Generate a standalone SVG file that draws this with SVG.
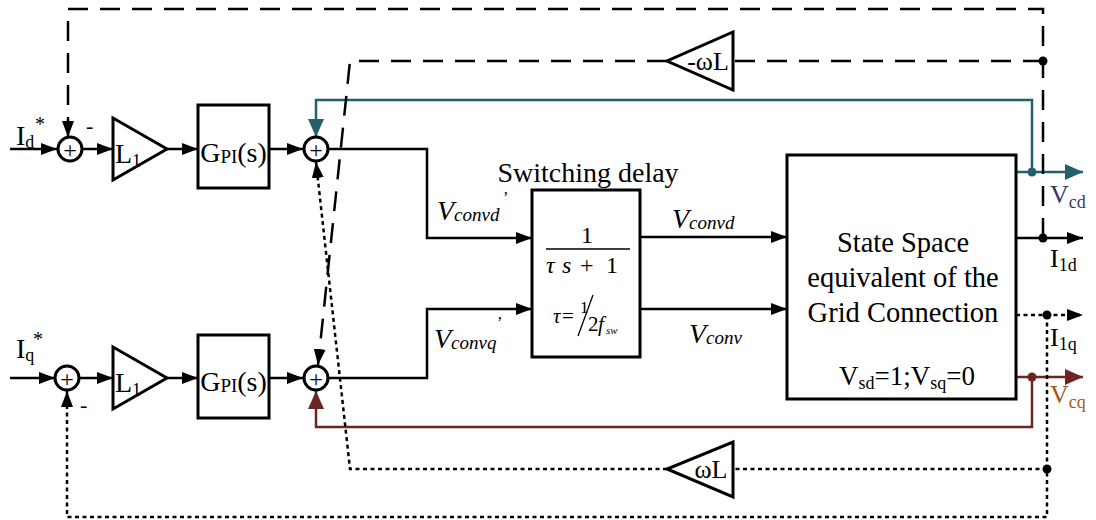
<svg xmlns="http://www.w3.org/2000/svg" width="1096" height="520" viewBox="0 0 1096 520">
<style>
.ln{fill:none;stroke:#000;stroke-width:2.5}
.da{fill:none;stroke:#000;stroke-width:2.5;stroke-dasharray:20 12}
.do{fill:none;stroke:#000;stroke-width:2.5;stroke-dasharray:4 3.5}
.te{fill:none;stroke:#22606e;stroke-width:2.5}
.br{fill:none;stroke:#6b2622;stroke-width:2.5}
.blk{fill:#fff;stroke:#000;stroke-width:3}
.t{font-family:"Liberation Serif","Times New Roman",serif;fill:#000}
.i{font-style:italic}
.pl{font-family:"Liberation Serif","Times New Roman",serif;font-size:24px;text-anchor:middle;fill:#000}
</style>
<defs>
<marker id="ab" markerWidth="16" markerHeight="12" refX="16" refY="6" orient="auto" markerUnits="userSpaceOnUse"><path d="M0,0 L16,6 L0,12 Z" fill="#000"/></marker>
<marker id="at" markerWidth="18" markerHeight="16" refX="18" refY="8" orient="auto" markerUnits="userSpaceOnUse"><path d="M0,0 L18,8 L0,16 Z" fill="#22606e"/></marker>
<marker id="ar" markerWidth="18" markerHeight="16" refX="18" refY="8" orient="auto" markerUnits="userSpaceOnUse"><path d="M0,0 L18,8 L0,16 Z" fill="#6b2622"/></marker>
</defs>

<g id="connectors">
<path class="ln" d="M10,149 H57" marker-end="url(#ab)"/>
<path class="ln" d="M82,149 H113" marker-end="url(#ab)"/>
<path class="ln" d="M167,149 H198" marker-end="url(#ab)"/>
<path class="ln" d="M269,149 H303" marker-end="url(#ab)"/>
<path class="ln" d="M328,149 H427 V238 H532" marker-end="url(#ab)"/>
<path class="ln" d="M640,237 H787" marker-end="url(#ab)"/>
<path class="ln" d="M10,378 H55" marker-end="url(#ab)"/>
<path class="ln" d="M79,378 H113" marker-end="url(#ab)"/>
<path class="ln" d="M167,378 H198" marker-end="url(#ab)"/>
<path class="ln" d="M269,378 H303" marker-end="url(#ab)"/>
<path class="ln" d="M328,378 H427 V309 H532" marker-end="url(#ab)"/>
<path class="ln" d="M640,309 H787" marker-end="url(#ab)"/>
<path class="te" d="M1016,172 H1083" marker-end="url(#at)"/>
<path class="ln" d="M1016,238 H1083" marker-end="url(#ab)"/>
<path class="do" d="M1016,315 H1083" marker-end="url(#ab)"/>
<path class="br" d="M1016,377 H1083" marker-end="url(#ar)"/>
<path class="te" d="M1032,172 V100 H316 V137" marker-end="url(#at)"/>
<path class="br" d="M1032,377 V427 H316 V391" marker-end="url(#ar)"/>
<path class="da" d="M1043,238 V9 H68 V137" marker-end="url(#ab)"/>
<path class="da" d="M1043,61 H733"/>
<path class="da" d="M667,61 H350 L318,365" marker-end="url(#ab)"/>
<path class="do" d="M1047,315 V517 H67 V391" marker-end="url(#ab)"/>
<path class="do" d="M1047,469 H733"/>
<path class="do" d="M667,469 H350 L316,162" marker-end="url(#ab)"/>
<circle cx="1043" cy="61" r="4.5" fill="#000"/>
<circle cx="1043" cy="238" r="4.5" fill="#000"/>
<circle cx="1047" cy="315" r="4.5" fill="#000"/>
<circle cx="1047" cy="469" r="4.5" fill="#000"/>
<circle cx="1032" cy="172" r="4.5" fill="#22606e"/>
<circle cx="1032" cy="377" r="4.5" fill="#6b2622"/>
</g>

<g id="sum_d1"><circle class="blk" cx="70" cy="149" r="12"/><text class="pl" x="70" y="157.5">+</text></g>
<g id="sum_q1"><circle class="blk" cx="67" cy="378" r="12"/><text class="pl" x="67" y="386.5">+</text></g>
<g id="sum_d2"><circle class="blk" cx="316" cy="149" r="12"/><text class="pl" x="316" y="157.5">+</text></g>
<g id="sum_q2"><circle class="blk" cx="316" cy="378" r="12"/><text class="pl" x="316" y="386.5">+</text></g>

<g id="gain_d"><path class="blk" d="M113,118 L113,180 L167,149 Z"/><text class="t" x="115" y="163" font-size="28">L<tspan font-size="18" dy="4">1</tspan></text></g>
<g id="gain_q"><path class="blk" d="M113,347 L113,409 L167,378 Z"/><text class="t" x="115" y="392" font-size="28">L<tspan font-size="18" dy="4">1</tspan></text></g>

<g id="pi_d"><rect class="blk" x="198" y="105" width="71" height="83"/><text class="t" x="233.5" y="162" font-size="28" text-anchor="middle">G<tspan font-size="19" dy="1">PI</tspan><tspan dy="-1">(s)</tspan></text></g>
<g id="pi_q"><rect class="blk" x="198" y="335" width="71" height="83"/><text class="t" x="233.5" y="391" font-size="28" text-anchor="middle">G<tspan font-size="19" dy="1">PI</tspan><tspan dy="-1">(s)</tspan></text></g>

<g id="wL_neg"><path class="blk" d="M733,32 L733,90 L667,61 Z"/><text class="t" x="708" y="70" font-size="26" text-anchor="middle">-ωL</text></g>
<g id="wL_pos"><path class="blk" d="M733,442 L733,497 L667,469 Z"/><text class="t" x="711" y="478" font-size="26" text-anchor="middle">ωL</text></g>

<g id="delay">
<rect class="blk" x="532" y="190" width="108" height="167"/>
<text class="t" x="588" y="182" font-size="28" text-anchor="middle">Switching delay</text>
<text class="t" x="587" y="243" font-size="24" text-anchor="middle">1</text>
<line x1="546" y1="249" x2="630" y2="249" stroke="#000" stroke-width="1.5"/>
<text class="t" y="273" font-size="24"><tspan class="i" x="546">τ</tspan><tspan class="i" x="562">s</tspan><tspan x="580">+</tspan><tspan x="606">1</tspan></text>
<text class="t" y="323" font-size="21"><tspan class="i" x="553">τ</tspan><tspan x="562">=</tspan><tspan x="580" y="313" font-size="17">1</tspan><tspan x="588" y="331" font-size="21">2</tspan><tspan class="i" x="598" y="331">f</tspan><tspan class="i" x="606" y="334" font-size="11">sw</tspan></text>
<line x1="578" y1="336" x2="593" y2="295" stroke="#000" stroke-width="1.3"/>
</g>

<g id="plant">
<rect class="blk" x="787" y="155" width="229" height="244"/>
<text class="t" x="903" y="252" font-size="28.5" text-anchor="middle">State Space</text>
<text class="t" x="903" y="287" font-size="28.5" text-anchor="middle">equivalent of the</text>
<text class="t" x="903" y="322" font-size="28.5" text-anchor="middle">Grid Connection</text>
<text class="t" x="907" y="385" font-size="27" text-anchor="middle">V<tspan font-size="18" dy="4">sd</tspan><tspan dy="-4">=1;V</tspan><tspan font-size="18" dy="4">sq</tspan><tspan dy="-4">=0</tspan></text>
</g>

<g id="labels">
<text class="t" x="16" y="145" font-size="28">I<tspan font-size="18" dy="3">d</tspan></text>
<text class="t" x="35" y="131" font-size="20">*</text>
<text class="t" x="86" y="133" font-size="22">-</text>
<text class="t" x="16" y="358" font-size="28">I<tspan font-size="18" dy="3">q</tspan></text>
<text class="t" x="33" y="346" font-size="20">*</text>
<text class="t" x="80" y="412" font-size="22">-</text>
<text class="t i" x="437" y="220" font-size="28">V<tspan font-size="19" dy="1">convd</tspan></text>
<text class="t" x="503" y="203" font-size="16">’</text>
<text class="t i" x="434" y="348" font-size="28">V<tspan font-size="19" dy="1">convq</tspan></text>
<text class="t" x="497" y="328" font-size="16">’</text>
<text class="t i" x="672" y="228" font-size="28">V<tspan font-size="19" dy="1">convd</tspan></text>
<text class="t i" x="689" y="343" font-size="28">V<tspan font-size="19" dy="1">conv</tspan></text>
<text class="t" x="1050" y="203" font-size="26" style="fill:#2e3a6b">V<tspan font-size="18" dy="5">cd</tspan></text>
<text class="t" x="1050" y="267" font-size="26">I<tspan font-size="18" dy="4">1d</tspan></text>
<text class="t" x="1050" y="346" font-size="26">I<tspan font-size="18" dy="4">1q</tspan></text>
<text class="t" x="1050" y="403" font-size="26" style="fill:#a3561d">V<tspan font-size="18" dy="5">cq</tspan></text>
</g>
</svg>
